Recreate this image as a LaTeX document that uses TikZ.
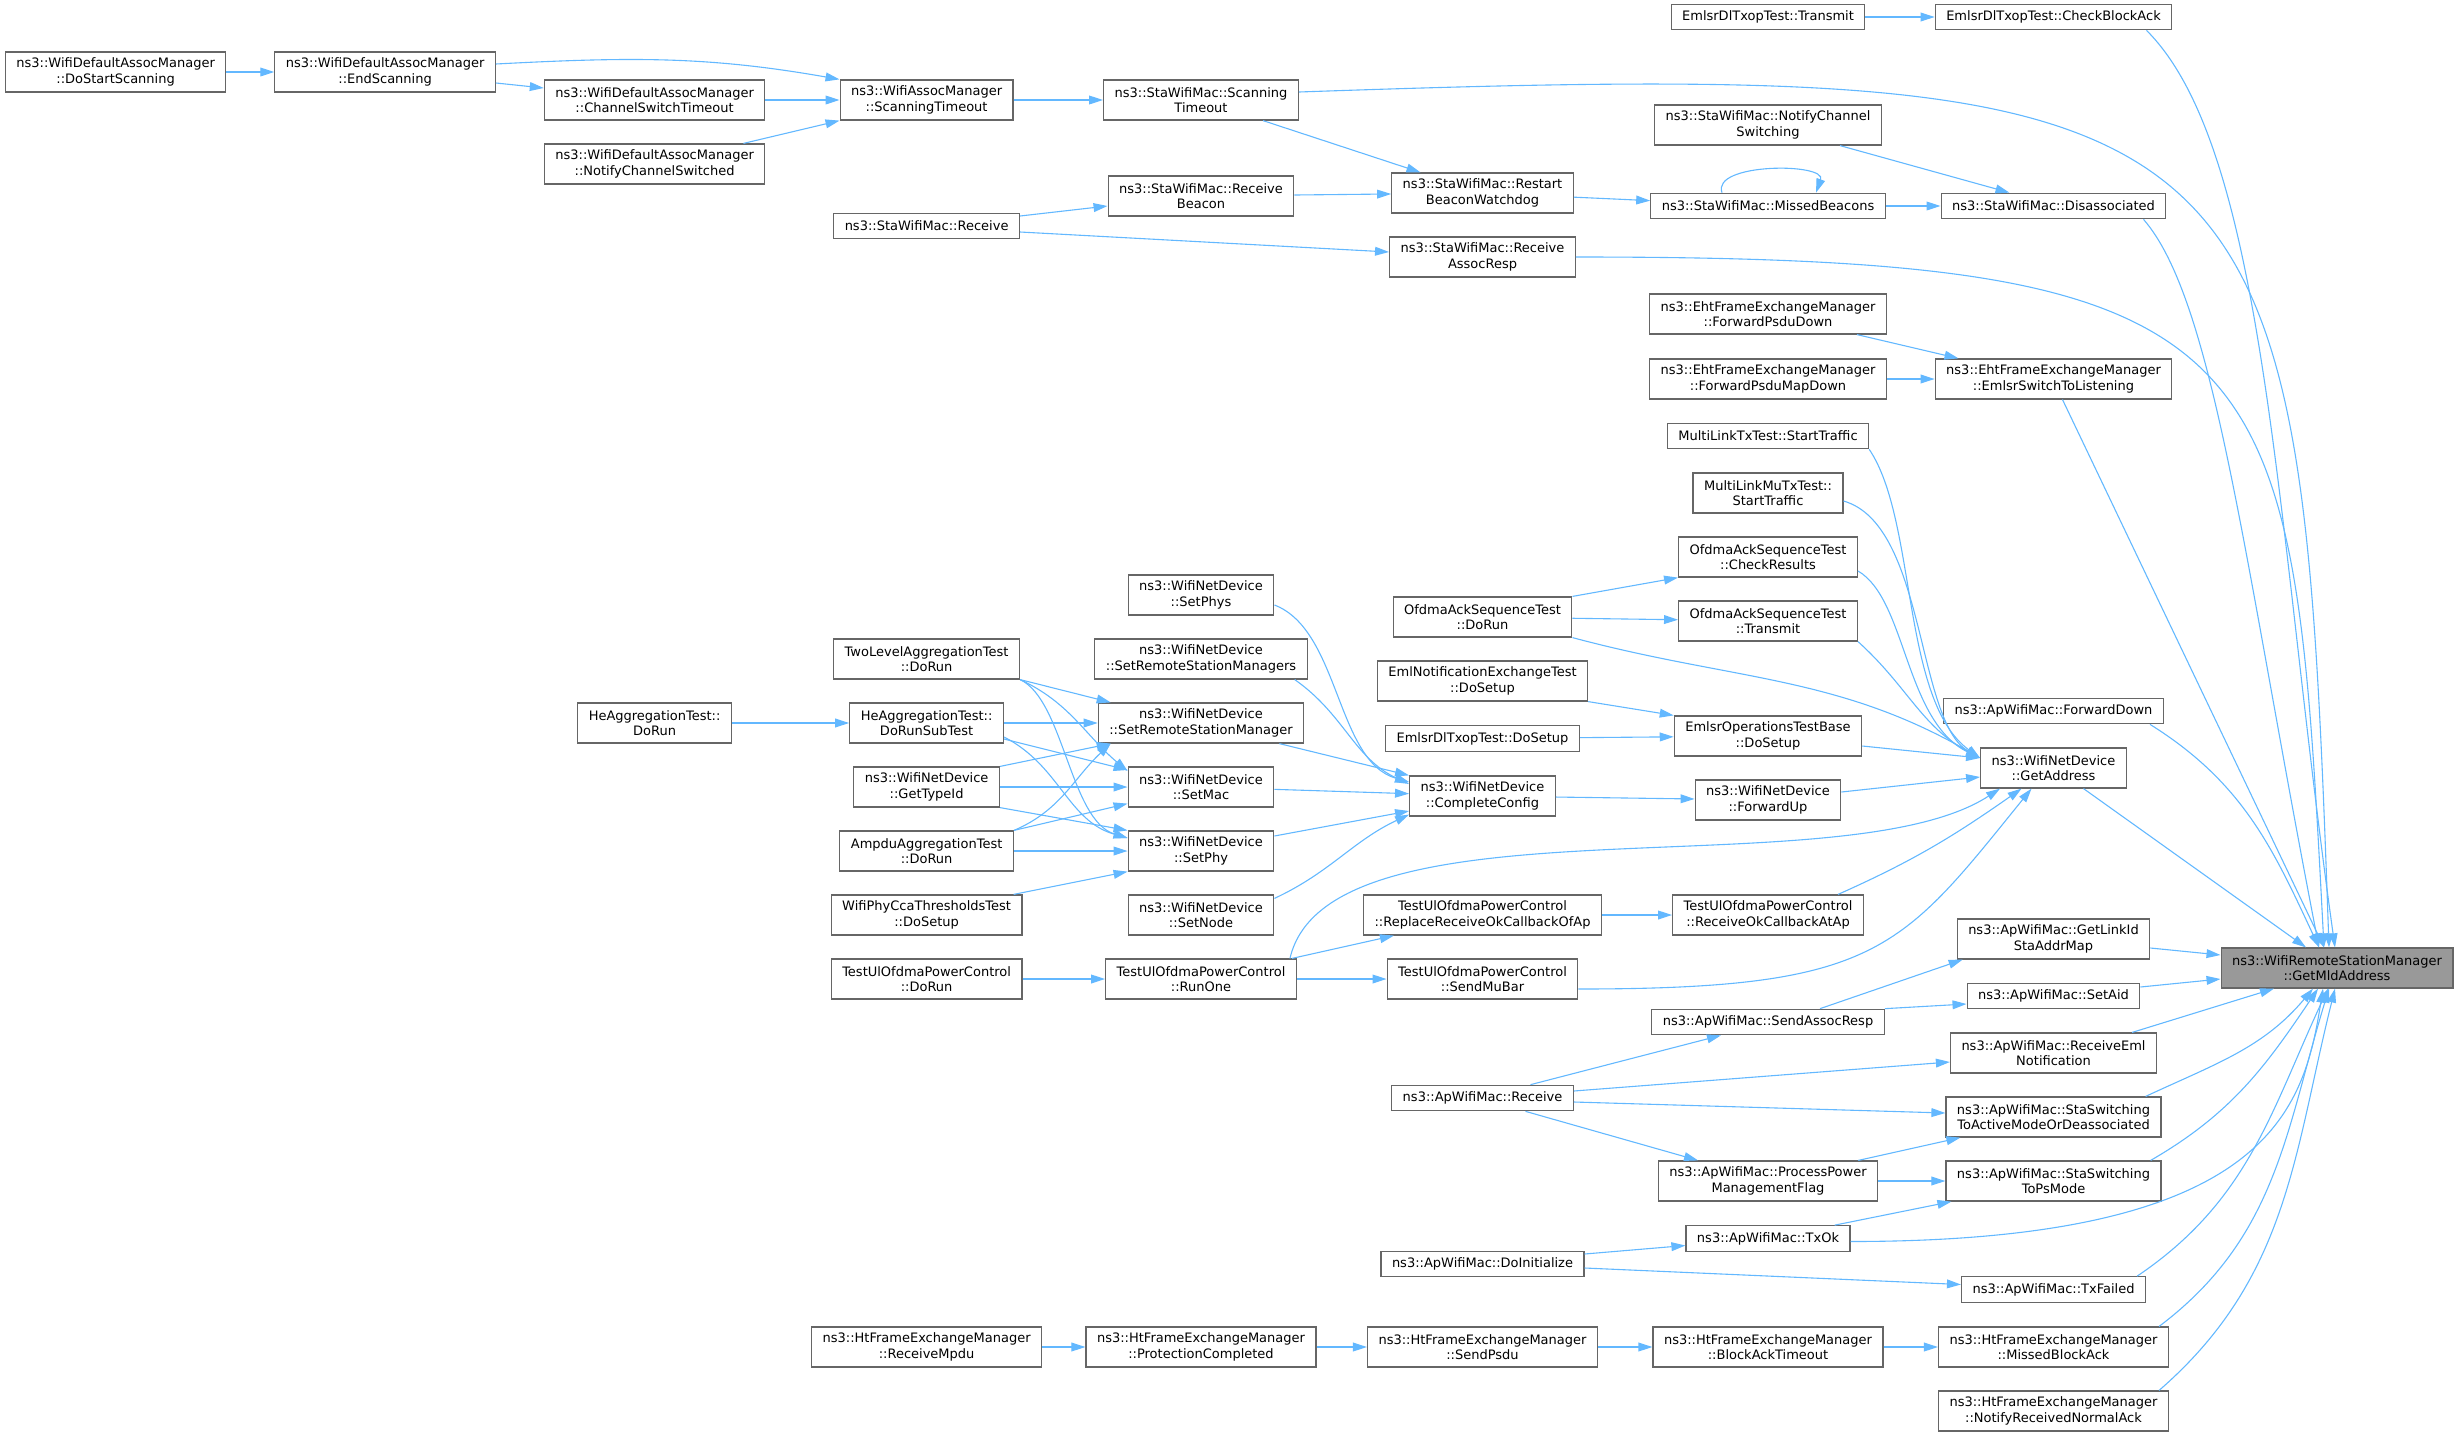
\documentclass[tikz,border=0pt]{standalone}
\usepackage{fontspec}
\newfontfamily\nodefont{DejaVu Sans}
\usepackage{tikz}
\usetikzlibrary{positioning, arrows.meta}
\definecolor{edgeblue}{HTML}{63B8FF}
\definecolor{boxgray}{HTML}{666666}
\definecolor{targetgray}{HTML}{999999}
\tikzset{func node/.style={rectangle, draw=boxgray, fill=white, line width=0.6pt, align=center, font=\nodefont\fontsize{6.5pt}{7.65pt}\selectfont, inner xsep=5.5pt, inner ysep=1pt, minimum height=20pt},
  one line/.style={minimum height=12.75pt},
  target node/.style={func node, fill=targetgray},
  call/.style={edgeblue, line width=0.55pt, -{Triangle[length=7pt,width=4.4pt]}},}

\begin{document}
\begin{tikzpicture}[x=0.5pt, y=-0.5pt, on grid]
        \useasboundingbox (0,0) rectangle (2459,1436);
        % Called function
        \node[target node] (1) at (2337,968) {ns3::WifiRemoteStationManager\\::GetMldAddress};
        % Direct callers
        \node[func node] [above left = 100pt and 141.75pt of 1] (6) {ns3::WifiNetDevice\\::GetAddress};
        \node[func node, one line] [above = 28.5pt of 6] (5) {ns3::ApWifiMac::ForwardDown};
        \node[func node] [above = 166pt of 5] (4) {ns3::EhtFrameExchangeManager\\::EmlsrSwitchToListening};
        \node[func node, one line] [above = 86.5pt of 4] (3) {ns3::StaWifiMac::Disassociated};
        \node[func node, one line] [above = 94.5pt of 3] (2) {EmlsrDlTxopTest::CheckBlockAck};
        \node[func node] [below = 85.5pt of 6] (7) {ns3::ApWifiMac::GetLinkId\\StaAddrMap};
        \node[func node, one line] [below = 28.5pt of 7] (8) {ns3::ApWifiMac::SetAid};
        \node[func node] [below = 28.5pt of 8] (9) {ns3::ApWifiMac::ReceiveEml\\Notification};
        \node[func node] [below = 32pt of 9] (10) {ns3::ApWifiMac::StaSwitching\\ToActiveModeOrDeassociated};
        \node[func node] [below = 32pt of 10] (11) {ns3::ApWifiMac::StaSwitching\\ToPsMode};
        \node[func node, one line] [below = 54.25pt of 11] (12) {ns3::ApWifiMac::TxFailed};
        \node[func node] [below = 28.75pt of 12] (13) {ns3::HtFrameExchangeManager\\::MissedBlockAck};
        \node[func node] [below = 32pt of 13] (14) {ns3::HtFrameExchangeManager\\::NotifyReceivedNormalAck};
        % Second level
        \node[func node, one line] [left = 142.75pt of 2] (15) {EmlsrDlTxopTest::Transmit};
        \node[func node, one line] [left = 142.75pt of 3] (17) {ns3::StaWifiMac::MissedBeacons};
        \node[func node] [above = 40.5pt of 17] (16) {ns3::StaWifiMac::NotifyChannel\\Switching};
        \node[func node] [left = 142.75pt of 4] (19) {ns3::EhtFrameExchangeManager\\::ForwardPsduMapDown};
        \node[func node] [above = 32.5pt of 19] (18) {ns3::EhtFrameExchangeManager\\::ForwardPsduDown};
        \node[func node, one line] [below = 28.5pt of 19] (20) {MultiLinkTxTest::StartTraffic};
        \node[func node] [below = 28.5pt of 20] (21) {MultiLinkMuTxTest::\\StartTraffic};
        \node[func node] [below = 32pt of 21] (22) {OfdmaAckSequenceTest\\::CheckResults};
        \node[func node] [below = 32pt of 22] (23) {OfdmaAckSequenceTest\\::Transmit};
        \node[func node] [below = 57.5pt of 23] (24) {EmlsrOperationsTestBase\\::DoSetup};
        \node[func node] [below = 32pt of 24] (25) {ns3::WifiNetDevice\\::ForwardUp};
        \node[func node] [below = 57.5pt of 25] (26) {TestUlOfdmaPowerControl\\::ReceiveOkCallbackAtAp};
        \node[func node, one line] [below = 53.5pt of 26] (27) {ns3::ApWifiMac::SendAssocResp};
        \node[func node] [left = 142.75pt of 11] (28) {ns3::ApWifiMac::ProcessPower\\ManagementFlag};
        \node[func node, one line] [below = 28.75pt of 28] (29) {ns3::ApWifiMac::TxOk};
        \node[func node] [left = 142.75pt of 13] (30) {ns3::HtFrameExchangeManager\\::BlockAckTimeout};
        % Third level
        \node[func node] [above left = 6.5pt and 142.75pt of 17] (31) {ns3::StaWifiMac::Restart\\BeaconWatchdog};
        \node[func node] [below = 32pt of 31] (32) {ns3::StaWifiMac::Receive\\AssocResp};
        \node[func node] [above left = 2pt and 142.75pt of 23] (33) {OfdmaAckSequenceTest\\::DoRun};
        \node[func node] [below = 32pt of 33] (34) {EmlNotificationExchangeTest\\::DoSetup};
        \node[func node, one line] [below = 28.75pt of 34] (35) {EmlsrDlTxopTest::DoSetup};
        \node[func node] [below = 28.75pt of 35] (36) {ns3::WifiNetDevice\\::CompleteConfig};
        \node[func node] [left = 142.75pt of 26] (37) {TestUlOfdmaPowerControl\\::ReplaceReceiveOkCallbackOfAp};
        \node[func node] [below = 32pt of 37] (38) {TestUlOfdmaPowerControl\\::SendMuBar};
        \node[func node, one line] [below = 59.5pt of 38] (39) {ns3::ApWifiMac::Receive};
        \node[func node, one line] [below = 83pt of 39] (40) {ns3::ApWifiMac::DoInitialize};
        \node[func node] [left = 142.75pt of 30] (41) {ns3::HtFrameExchangeManager\\::SendPsdu};
        % Fourth level
        \node[func node] [above left = 46.5pt and 140.75pt of 31] (42) {ns3::StaWifiMac::Scanning\\Timeout};
        \node[func node] [below = 48pt of 42] (43) {ns3::StaWifiMac::Receive\\Beacon};
        \node[func node] [above left = 11pt and 140.75pt of 33] (44) {ns3::WifiNetDevice\\::SetPhys};
        \node[func node] [below = 32pt of 44] (45) {ns3::WifiNetDevice\\::SetRemoteStationManagers};
        \node[func node] [below = 32pt of 45] (46) {ns3::WifiNetDevice\\::SetRemoteStationManager};
        \node[func node] [below = 32pt of 46] (47) {ns3::WifiNetDevice\\::SetMac};
        \node[func node] [below = 32pt of 47] (48) {ns3::WifiNetDevice\\::SetPhy};
        \node[func node] [below = 32pt of 48] (49) {ns3::WifiNetDevice\\::SetNode};
        \node[func node] [below = 32pt of 49] (50) {TestUlOfdmaPowerControl\\::RunOne};
        \node[func node] [left = 140.75pt of 41] (51) {ns3::HtFrameExchangeManager\\::ProtectionCompleted};
        % Fifth level
        \node[func node] [left = 137.2pt of 42] (52) {ns3::WifiAssocManager\\::ScanningTimeout};
        \node[func node, one line] [below = 63pt of 52] (53) {ns3::StaWifiMac::Receive};
        \node[func node] [left = 137.2pt of 45] (54) {TwoLevelAggregationTest\\::DoRun};
        \node[func node] [left = 137.2pt of 46] (55) {HeAggregationTest::\\DoRunSubTest};
        \node[func node] [left = 137.2pt of 47] (56) {ns3::WifiNetDevice\\::GetTypeId};
        \node[func node] [left = 137.2pt of 48] (57) {AmpduAggregationTest\\::DoRun};
        \node[func node] [left = 137.2pt of 49] (58) {WifiPhyCcaThresholdsTest\\::DoSetup};
        \node[func node] [left = 137.2pt of 50] (59) {TestUlOfdmaPowerControl\\::DoRun};
        \node[func node] [left = 137.2pt of 51] (60) {ns3::HtFrameExchangeManager\\::ReceiveMpdu};
        % Outer levels
        \node[func node] [left = 136pt of 52] (61) {ns3::WifiDefaultAssocManager\\::ChannelSwitchTimeout};
        \node[func node] [below = 32pt of 61] (62) {ns3::WifiDefaultAssocManager\\::NotifyChannelSwitched};
        \node[func node] [left = 136pt of 55] (63) {HeAggregationTest::\\DoRun};
        \node[func node] [above left = 14pt and 134.75pt of 61] (64) {ns3::WifiDefaultAssocManager\\::EndScanning};
        \node[func node] [left = 134.75pt of 64] (65) {ns3::WifiDefaultAssocManager\\::DoStartScanning};
        % Calls, top part
        \path[call]
        (65) edge (64)
        ([yshift=4pt]64.east) edge [out=3, in=170] (52.north west)
        ([yshift=-5.5pt]64.east) edge ([yshift=6pt]61.west)
        (61) edge (52)
        ([xshift=-11pt]62.north east) edge (52.south west)
        (52) edge (42)
        ([xshift=31pt]42.south) edge ([xshift=-31pt]31.north)
        ([yshift=4pt]42.east) edge [out=2, in=92, out distance=492pt, in distance=424pt] ([xshift=-4pt]1.north)
        ([yshift=5pt]53.east) edge ([yshift=-5pt]43.west)
        ([yshift=-3pt]53.east) edge ([yshift=2.5pt]32.west)
        (43) edge (31)
        (31) edge (17)
        ([xshift=-23pt]17.north) edge [out=110, in=70, distance=16pt] ([xshift=24pt]17.north)
        (17) edge (3)
        ([xshift=36pt]16.south) edge ([xshift=-22pt]3.north)
        ([xshift=45pt]3.south) edge [out=-49, in=101, out distance=54pt, in distance=198pt] ([xshift=-9pt]1.north)
        (32.east) edge [out=0, in=93, out distance=357pt, in distance=304pt] ([xshift=-6.5pt]1.north)
        (15) edge (2)
        ([xshift=46.5pt]2.south) edge [out=-45, in=98, out distance=85pt, in distance=214pt] ([xshift=-1pt]1.north)
        ([xshift=44.5pt]18.south) edge ([xshift=-47.5pt]4.north)
        (19) edge (4)
        ([xshift=4.5pt]4.south) edge ([xshift=-6.5pt]1.north);
        % Calls, middle part
        \path[call]
        (20.south east) edge [out=-56, in=144, out distance=43pt, in distance=49pt] ([yshift=5pt]6.west)
        ([yshift=-4pt]21.east) edge [out=-16, in=150, out distance=43pt, in distance=37pt] ([yshift=5pt]6.west)
        (33.north east) edge (22.south west)
        (33) edge (23)
        (33.south east) edge [out=-15, in=150] ([yshift=5pt]6.west)
        ([yshift=-7pt]22.east) edge [out=-30, in=154, out distance=28pt, in distance=42pt] ([yshift=5pt]6.west)
        (23.south east) edge [out=-42, in=152] ([yshift=5pt]6.west)
        (34.south east) edge (24.north west)
        (35) edge (24)
        ([yshift=-5pt]24.east) edge ([yshift=5pt]6.west)
        (36) edge (25)
        ([yshift=4pt]25.east) edge ([yshift=-4.5pt]6.west)
        ([xshift=-7pt]5.south east) edge [out=-32, in=115] ([xshift=-9pt]1.north)
        ([xshift=15pt]6.south) edge ([xshift=-15.5pt]1.north)
        ([xshift=-3.5pt]50.north east) edge [out=77, in=-147, out distance=86pt, in distance=94pt] ([xshift=10pt]6.south west)
        ([xshift=35pt]26.north) edge [out=24, in=-145] ([xshift=-16pt]6.south)
        ([yshift=-5pt]38.east) edge [out=0, in=-129, out distance=150pt, in distance=104pt] ([xshift=-11pt]6.south)
        (37) edge (26)
        ([xshift=-2.5pt]50.north east) edge ([xshift=15.5pt]37.south west)
        (50) edge (38)
        (59) edge (50)
        ([yshift=-5pt]44.east) edge [out=-21, in=164, out distance=35pt, in distance=38pt] ([yshift=7pt]36.west)
        ([xshift=-6.5pt]45.south east) edge [out=-35, in=155] ([yshift=6pt]36.west)
        ([xshift=-12.5pt]46.south east) edge (36.north west)
        (47) edge (36)
        ([yshift=7.5pt]48.east) edge ([yshift=-7.5pt]36.west)
        ([yshift=-2pt]49.north east) edge [out=25, in=-155] ([yshift=1pt]36.south west)
        (63) edge (55)
        (54.south east) edge ([xshift=6.5pt]46.north west)
        (54.south east) edge [out=-25, in=140] ([yshift=8pt]47.west)
        (54.south east) edge [out=-25, in=163, out distance=24pt, in distance=30pt] ([yshift=6.5pt]48.west)
        (55) edge (46)
        ([yshift=-8pt]55.east) edge ([yshift=8.5pt]47.west)
        ([yshift=-7pt]55.east) edge [out=-27, in=164] ([yshift=6.5pt]48.west)
        (56.north east) edge ([xshift=6.5pt]46.south west)
        (56) edge (47)
        (56.south east) edge (48.north west)
        (57.north east) edge [out=23, in=-137] ([xshift=6.5pt]46.south west)
        (57.north east) edge ([yshift=2pt]47.south west)
        (57) edge (48)
        ([xshift=-4.5pt]58.north east) edge (48.south west);
        % Calls, bottom part
        \path[call]
        ([yshift=-4.5pt]7.east) edge ([yshift=6.5pt]1.west)
        ([xshift=26pt]27.north) edge ([xshift=3pt]7.south west)
        (27.north east) edge ([yshift=-4pt]8.west)
        ([yshift=4.5pt]8.east) edge ([yshift=-5.5pt]1.west)
        ([xshift=24pt]39.north) edge ([xshift=-23.5pt]27.south)
        ([yshift=3.5pt]39.east) edge ([yshift=-4.5pt]9.west)
        ([yshift=-2pt]39.east) edge ([yshift=2pt]10.west)
        ([xshift=21.5pt]39.south) edge ([xshift=-35pt]28.north)
        ([xshift=-12.5pt]9.north east) edge ([xshift=-31.5pt]1.south)
        ([xshift=-8pt]10.north east) edge [out=25, in=-130] ([xshift=-12pt]1.south)
        ([xshift=-10pt]28.north east) edge ([xshift=7.5pt]10.south west)
        (28) edge (11)
        ([xshift=-5.5pt]11.north east) edge [out=30, in=-124] ([xshift=-9.5pt]1.south)
        ([xshift=-8pt]29.north east) edge ([xshift=3pt]11.south west)
        ([yshift=-1.5pt]29.east) edge [out=0, in=-99, out distance=210pt, in distance=61pt] ([xshift=-7pt]1.south)
        ([yshift=5pt]40.east) edge ([yshift=-3.5pt]29.west)
        ([yshift=-2pt]40.east) edge ([yshift=2.5pt]12.west)
        ([xshift=-4.5pt]12.north east) edge [out=34, in=-115] ([xshift=-4.5pt]1.south)
        ([xshift=-5pt]13.north east) edge [out=37, in=-107] ([xshift=-4pt]1.south)
        ([xshift=-5pt]14.north east) edge [out=41, in=-104] ([xshift=-1pt]1.south)
        (60) edge (51)
        (51) edge (41)
        (41) edge (30)
        (30) edge (13);
    \end{tikzpicture}
\end{document}
